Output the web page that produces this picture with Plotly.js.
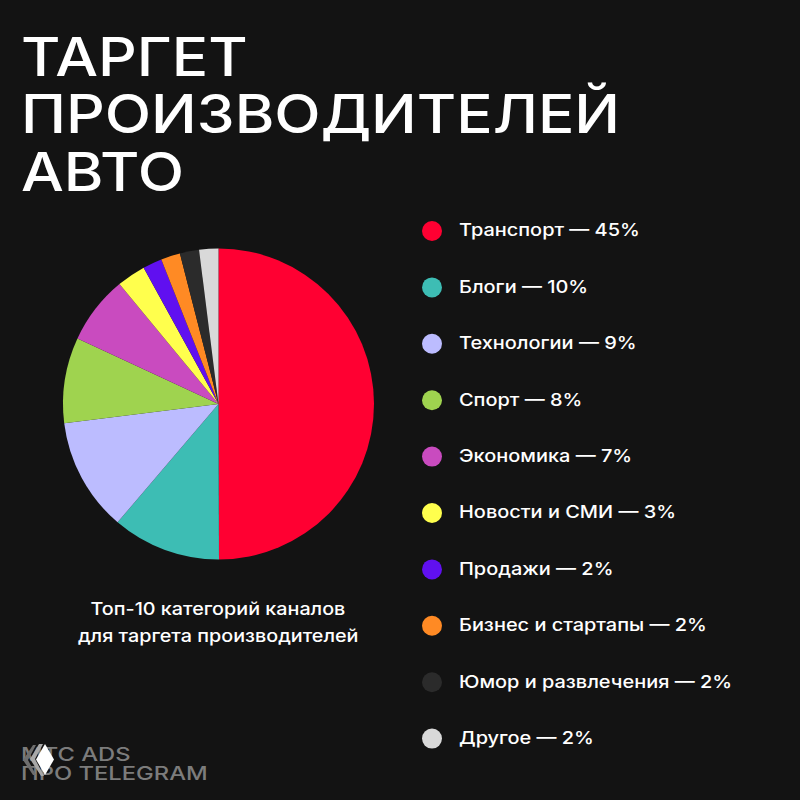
<!DOCTYPE html>
<html><head><meta charset="utf-8">
<script src="https://cdn.plot.ly/plotly-3.0.1.min.js"></script>
<style>html,body{margin:0;padding:0;background:#131313}</style></head>
<body><div id="chart" style="width:800px;height:800px"></div>
<script>
const categories = ["Транспорт","Блоги","Технологии","Спорт","Экономика","Новости и СМИ","Продажи","Бизнес и стартапы","Юмор и развлечения","Другое"];
const legendPercents = [45,10,9,8,7,3,2,2,2,2];
const sliceValues = [50,11.3,11.8,8.9,7.1,3,2,2,2,2];
const colors = ["#ff0032","#3dbdb4","#bcbcff","#9fd34f","#c94bbf","#ffff4d","#6010f0","#ff8a24","#2b2b2b","#d9d9d9"];
const titleLines = ["ТАРГЕТ","ПРОИЗВОДИТЕЛЕЙ","АВТО"];
const captionLines = ["Топ-10 категорий каналов","для таргета производителей"];
const footerLines = ["МТС ADS","ПРО TELEGRAM"];

const FONT = "Inter, 'DejaVu Sans', sans-serif";
const W = 800, cx = 218.5, cy = 404, r = 155.5;
const legendStep = 56.4;

const pie = {type:"pie", values:sliceValues, labels:categories, sort:false, direction:"clockwise", rotation:0,
  marker:{colors:colors, line:{width:0}}, textinfo:"none", hoverinfo:"label",
  domain:{x:[(cx-r)/W,(cx+r)/W], y:[1-(cy+r)/W,1-(cy-r)/W]}, showlegend:false};

const ys = categories.map((_,i)=>231+i*legendStep);
const legendDots = {type:"scatter", mode:"markers", x:categories.map(()=>432), y:ys,
  marker:{size:20,color:colors,line:{width:0}}, hoverinfo:"skip", showlegend:false};
const legendText = {type:"scatter", mode:"text", x:categories.map(()=>459), y:ys.map(v=>v+1),
  text:categories.map((c,i)=>c+" — "+legendPercents[i]+"%"), textposition:"middle right",
  textfont:{family:FONT,size:17.5,color:"#ffffff",weight:500}, hoverinfo:"skip", showlegend:false};
const footerText = {type:"scatter", mode:"text", x:footerLines.map(()=>21), y:[756,775],
  text:footerLines, textposition:"middle right",
  textfont:{family:FONT,size:19,color:"#7c7c7c",weight:500}, hoverinfo:"skip", showlegend:false};

const annotations = [];
const titleY = [57,114,172];
titleLines.forEach((t,i)=>annotations.push({text:t,xref:"x",yref:"y",x:19,y:titleY[i],xanchor:"left",yanchor:"middle",showarrow:false,
  font:{family:FONT,size:53,color:"#ffffff",weight:500}}));
const capY=[608,635];
captionLines.forEach((t,i)=>annotations.push({text:t,xref:"x",yref:"y",x:218,y:capY[i],xanchor:"center",yanchor:"middle",showarrow:false,
  font:{family:FONT,size:17.5,color:"#ffffff",weight:500}}));

const shapes = [
 {type:"path",xref:"x",yref:"y",path:"M 33 745 L 23 760 L 33 775 L 36 775 L 28 760 L 36 745 Z",fillcolor:"#6e6e6e",line:{width:0}},
 {type:"path",xref:"x",yref:"y",path:"M 39 744 L 30 759 L 41 776 L 44 776 L 35 759 L 43 744 Z",fillcolor:"#a8a8a8",line:{width:0}},
 {type:"path",xref:"x",yref:"y",path:"M 45 744 L 36 759.5 L 45 775 L 54 759.5 Z",fillcolor:"#ffffff",line:{width:0}}
];

// The reference typeface is an extended grotesque: widen the real text horizontally.
function stretch(el,k,mode){
  const b=el.getBBox();
  const ax = mode==="center" ? b.x+b.width/2 : b.x;
  const old=el.getAttribute("transform")||"";
  el.setAttribute("transform",`translate(${ax},0) scale(${k},1) translate(${-ax},0) ${old}`);
}

Plotly.newPlot("chart",[pie,legendDots,legendText,footerText],{
  width:800,height:800,margin:{l:0,r:0,t:0,b:0},
  paper_bgcolor:"#131313",plot_bgcolor:"rgba(0,0,0,0)",showlegend:false,
  xaxis:{range:[0,800],visible:false,fixedrange:true},
  yaxis:{range:[800,0],visible:false,fixedrange:true},
  annotations:annotations,shapes:shapes
},{displayModeBar:false,staticPlot:true}).then(gd=>{
  gd.querySelectorAll(".annotation-text").forEach(el=>{
    const s=el.textContent;
    if(titleLines.includes(s)) stretch(el,1.14,"left");
    else if(captionLines.includes(s)) stretch(el,1.13,"center");
  });
  gd.querySelectorAll(".textpoint text").forEach(el=>{
    stretch(el, footerLines.includes(el.textContent) ? 1.25 : 1.14, "left");
  });
});
</script></body></html>
